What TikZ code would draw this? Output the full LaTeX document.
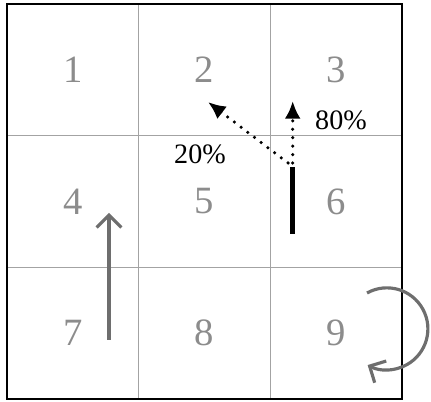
\documentclass[tikz,border=0pt]{standalone}
\usepackage{fontspec}
\setmainfont{Liberation Serif}
\usepackage{tikz}
\usetikzlibrary{positioning,arrows.meta}
\definecolor{cellgray}{RGB}{140,140,140}
\definecolor{movegray}{RGB}{110,110,110}

\begin{document}
\begin{tikzpicture}[
  x=0.02cm,y=0.02cm,
  num/.style={text=cellgray,font=\fontsize{22}{24}\selectfont},
  pct/.style={text=black,font=\fontsize{16}{18}\selectfont},
  gridline/.style={draw=cellgray!80,line width=0.6pt},
  move/.style={draw=black,line width=2.6pt},
  chance/.style={draw=black,line width=2pt,line cap=round,
                 dash pattern=on 0pt off 4.8pt,
                 -{Latex[length=10pt,width=9pt]}},
  prev/.style={draw=movegray,line width=1.8pt,
               -{Straight Barb[length=7pt,width=14pt]}}
]
\useasboundingbox (0,0) rectangle (431,401);
% grid
\draw[gridline] (138.7,2) -- (138.7,397);
\draw[gridline] (270.3,2) -- (270.3,397);
\draw[gridline] (7,265.3) -- (402,265.3);
\draw[gridline] (7,133.7) -- (402,133.7);
\draw[line width=1.2pt] (7,2) rectangle (402,397);
% cell numbers
\node[num] (n1) at (72.8,331.2) {1};
\node[num] (n2) at (204.5,331.2) {2};
\node[num] (n3) at (336.2,331.2) {3};
\node[num] (n4) at (72.8,199.5) {4};
\node[num] (n5) at (204.5,199.5) {5};
\node[num] (n6) at (336.2,199.5) {6};
\node[num] (n7) at (72.8,67.8) {7};
\node[num] (n8) at (204.5,67.8) {8};
\node[num] (n9) at (336.2,67.8) {9};
% percentages
\node[pct] (p20) at (200,247) {20\%};
\node[pct] (p80) at (341,281) {80\%};
% moves
\coordinate (a0) at (292.7,167);
\coordinate (a1) at (292.7,234);
\coordinate (b0) at (292.7,238);
\coordinate (b1) at (292.7,300);
\coordinate (c0) at (288,238);
\coordinate (c1) at (208,299);
\coordinate (d0) at (109,61);
\coordinate (d1) at (109,188);
\coordinate (e0) at (367,108);
\draw[move] (a0) -- (a1);
\draw[chance] (b0) -- (b1);
\draw[chance] (c0) -- (c1);
\draw[prev] (d0) -- (d1);
\draw[prev] (e0) arc[start angle=119,end angle=-118,radius=41];
\end{tikzpicture}
\end{document}
